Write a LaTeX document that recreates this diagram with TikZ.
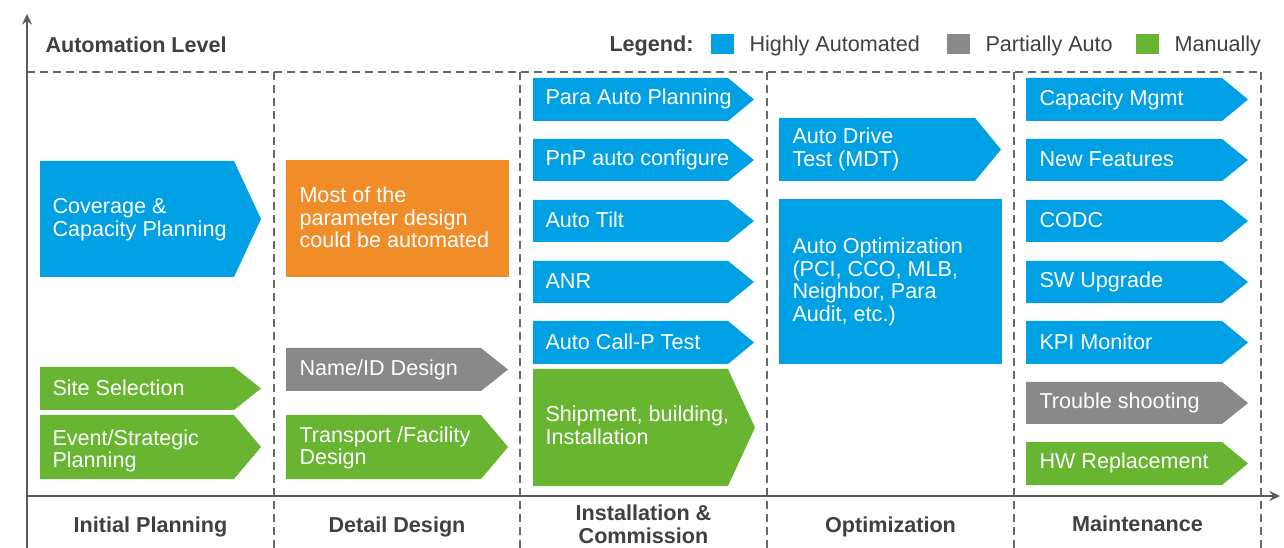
\documentclass[tikz,border=0pt]{standalone}
\usepackage{fontspec}
\setmainfont{Liberation Sans}

\definecolor{hablue}{RGB}{0,160,228}
\definecolor{pagray}{RGB}{137,137,137}
\definecolor{mngreen}{RGB}{103,181,48}
\definecolor{designorange}{RGB}{240,141,41}
\definecolor{labelgray}{RGB}{64,64,64}
\definecolor{framegray}{RGB}{105,105,105}
\definecolor{axisgray}{RGB}{90,90,90}

\tikzset{every picture/.style={line width=0.75pt}}
\tikzset{
	hiauto/.style={fill=hablue},
	partauto/.style={fill=pagray},
	manual/.style={fill=mngreen},
	boxtext/.style={text=white, anchor=west, align=left, inner sep=0pt, font=\fontsize{16.2}{17}\selectfont},
	headtext/.style={text=labelgray, align=center, inner sep=0pt, font=\bfseries\fontsize{16.2}{17}\selectfont},
	legtext/.style={text=labelgray, anchor=west, inner sep=0pt, font=\fontsize{16.2}{17}\selectfont},
	divider/.style={draw=framegray, line width=1.1pt, dash pattern=on 6pt off 3.75pt},
	axis/.style={draw=axisgray, line width=1.1pt},
}

\begin{document}
\begin{tikzpicture}[x=0.75pt,y=0.75pt,yscale=-1,xscale=1]
	\useasboundingbox (0,0) rectangle (1284,548);

	%Dashed frame and column dividers
	\draw [divider] (27,72) -- (1261,72) ;
	\draw [divider] (274,72) -- (274,548) ;
	\draw [divider] (520,72) -- (520,548) ;
	\draw [divider] (767,72) -- (767,548) ;
	\draw [divider] (1014,72) -- (1014,548) ;
	\draw [divider] (1261,72) -- (1261,548) ;

	%Axes
	\coordinate (origin) at (27,496) ;
	\coordinate (ytop) at (27,17) ;
	\coordinate (ybottom) at (27,548) ;
	\coordinate (xend) at (1277,496) ;
	\draw [axis] (ybottom) -- (ytop) ;
	\draw [shift={(27,14)}, rotate = 450] [fill=axisgray][line width=0.08] [draw opacity=0] (10.72,-5.15) -- (0,0) -- (10.72,5.15) -- (7.12,0) -- cycle ;
	\draw [axis] (origin) -- (xend) ;
	\draw [shift={(1280,496)}, rotate = 180] [fill=axisgray][line width=0.08] [draw opacity=0] (10.72,-5.15) -- (0,0) -- (10.72,5.15) -- (7.12,0) -- cycle ;

	%Legend
	\fill [hiauto] (711,34) rectangle (734,54) ;
	\fill [partauto] (947,34) rectangle (970,54) ;
	\fill [manual] (1136,34) rectangle (1159,54) ;

	%Shape: Initial Planning
	\fill [hiauto] (40,161) -- (234,161) -- (261,219) -- (234,277) -- (40,277) -- cycle ;
	\fill [manual] (40,367) -- (234,367) -- (261,388.5) -- (234,410) -- (40,410) -- cycle ;
	\fill [manual] (40,415) -- (234,415) -- (261,447) -- (234,479) -- (40,479) -- cycle ;

	%Shape: Detail Design
	\fill [designorange] (286,160) rectangle (509,277) ;
	\fill [partauto] (286,348) -- (481,348) -- (508,369.5) -- (481,391) -- (286,391) -- cycle ;
	\fill [manual] (286,415) -- (481,415) -- (508,447) -- (481,479) -- (286,479) -- cycle ;

	%Shape: Installation & Commission
	\fill [hiauto] (533,78) -- (728,78) -- (754,99.5) -- (728,121) -- (533,121) -- cycle ;
	\fill [hiauto] (533,139) -- (728,139) -- (754,160) -- (728,181) -- (533,181) -- cycle ;
	\fill [hiauto] (533,200) -- (728,200) -- (754,221) -- (728,242) -- (533,242) -- cycle ;
	\fill [hiauto] (533,261) -- (728,261) -- (754,282) -- (728,303) -- (533,303) -- cycle ;
	\fill [hiauto] (533,321) -- (728,321) -- (754,342.5) -- (728,364) -- (533,364) -- cycle ;
	\fill [manual] (533,369) -- (728,369) -- (755,427.5) -- (728,486) -- (533,486) -- cycle ;

	%Shape: Optimization
	\fill [hiauto] (779,118) -- (975,118) -- (1001,149.5) -- (975,181) -- (779,181) -- cycle ;
	\fill [hiauto] (779,199) rectangle (1002,364) ;

	%Shape: Maintenance
	\fill [hiauto] (1026,78) -- (1222,78) -- (1248,99.5) -- (1222,121) -- (1026,121) -- cycle ;
	\fill [hiauto] (1026,139) -- (1222,139) -- (1248,160) -- (1222,181) -- (1026,181) -- cycle ;
	\fill [hiauto] (1026,200) -- (1222,200) -- (1248,221) -- (1222,242) -- (1026,242) -- cycle ;
	\fill [hiauto] (1026,261) -- (1222,261) -- (1248,282) -- (1222,303) -- (1026,303) -- cycle ;
	\fill [hiauto] (1026,321) -- (1222,321) -- (1248,342.5) -- (1222,364) -- (1026,364) -- cycle ;
	\fill [partauto] (1026,382) -- (1222,382) -- (1248,403) -- (1222,424) -- (1026,424) -- cycle ;
	\fill [manual] (1026,442) -- (1222,442) -- (1248,463.5) -- (1222,485) -- (1026,485) -- cycle ;

	% Text Node
	\node [headtext, anchor=west] (level) at (45,44.5) {Automation Level};
	% Text Node
	\node [headtext, anchor=west] (legend) at (609,45.5) {Legend:};
	\node [legtext] (leghigh) at (749,45.5) {Highly Automated};
	\node [legtext] (legpart) at (985,45.5) {Partially Auto};
	\node [legtext] (legman) at (1174,45.5) {Manually};

	% Text Node
	\node [boxtext] (coverage) at (52,220) {Coverage \&\\Capacity Planning};
	\node [boxtext] (site) at (52,387.5) {Site Selection};
	\node [boxtext] (event) at (52,451) {Event/Strategic\\Planning};
	% Text Node
	\node [boxtext] (paramdesign) at (299,217.5) {Most of the\\parameter design\\could be automated};
	\node [boxtext] (nameid) at (299,369.5) {Name/ID Design};
	\node [boxtext] (transport) at (299,448) {Transport /Facility\\Design};
	% Text Node
	\node [boxtext] (paraplan) at (545,98.5) {Para Auto Planning};
	\node [boxtext] (pnp) at (545,160) {PnP auto configure};
	\node [boxtext] (tilt) at (545,220) {Auto Tilt};
	\node [boxtext] (anr) at (545,281) {ANR};
	\node [boxtext] (callp) at (545,341.5) {Auto Call-P Test};
	\node [boxtext] (shipment) at (545,425.5) {Shipment, building,\\Installation};
	% Text Node
	\node [boxtext] (mdt) at (792,149.5) {Auto Drive\\Test (MDT)};
	\node [boxtext] (autoopt) at (792,282) {Auto Optimization\\(PCI, CCO, MLB,\\Neighbor, Para\\Audit, etc.)};
	% Text Node
	\node [boxtext] (capacity) at (1039,99.5) {Capacity Mgmt};
	\node [boxtext] (features) at (1039,159) {New Features};
	\node [boxtext] (codc) at (1039,220) {CODC};
	\node [boxtext] (swup) at (1039,282) {SW Upgrade};
	\node [boxtext] (kpi) at (1039,341.5) {KPI Monitor};
	\node [boxtext] (trouble) at (1039,403) {Trouble shooting};
	\node [boxtext] (hwrep) at (1039,463) {HW Replacement};

	% Text Node
	\node [headtext] (initial) at (150.5,527) {Initial Planning};
	\node [headtext] (detail) at (397,527) {Detail Design};
	\node [headtext] (install) at (643.5,524) {Installation \&\\Commission};
	\node [headtext] (optim) at (890.5,526.5) {Optimization};
	\node [headtext] (maint) at (1137.5,524) {Maintenance};

\end{tikzpicture}
\end{document}
